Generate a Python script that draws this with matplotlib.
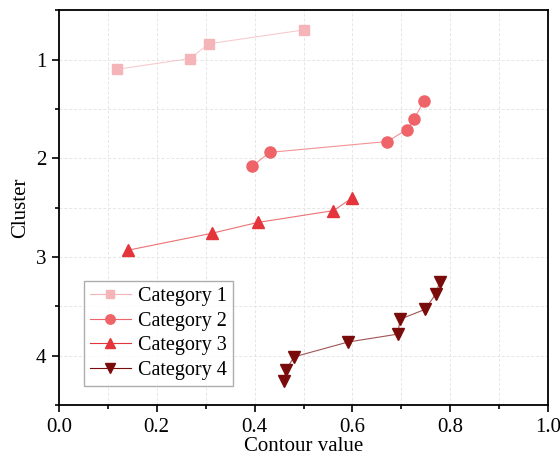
import matplotlib
matplotlib.use("Agg")
import matplotlib.pyplot as plt
from matplotlib.ticker import MultipleLocator, FormatStrFormatter

# ---- data ----
cat1_x = [0.118, 0.268, 0.307, 0.501]
cat1_y = [1.10, 0.99, 0.84, 0.70]

cat2_x = [0.395, 0.431, 0.671, 0.711, 0.726, 0.746]
cat2_y = [2.08, 1.94, 1.83, 1.71, 1.60, 1.42]

cat3_x = [0.142, 0.312, 0.406, 0.561, 0.600]
cat3_y = [2.93, 2.76, 2.65, 2.53, 2.40]

cat4_x = [0.460, 0.464, 0.481, 0.591, 0.693, 0.697, 0.748, 0.771, 0.778]
cat4_y = [4.25, 4.14, 4.01, 3.86, 3.78, 3.63, 3.53, 3.37, 3.25]

labels = ["Category 1", "Category 2", "Category 3", "Category 4"]
colors = ["#f5b5b8", "#ee6468", "#e3353b", "#7a0b0b"]
markers = ["s", "o", "^", "v"]
sizes = [7, 8, 9, 9]

plt.rcParams['font.family'] = ['Liberation Serif', 'DejaVu Serif']

fig = plt.figure(figsize=(5.6, 4.61), dpi=100)
ax = fig.add_axes([0.105, 0.121, 0.874, 0.857])

series = [(cat1_x, cat1_y), (cat2_x, cat2_y), (cat3_x, cat3_y), (cat4_x, cat4_y)]
for (xs, ys), lab, c, m, s in zip(series, labels, colors, markers, sizes):
    ax.plot(xs, ys, color=c, lw=0.8, alpha=0.7, zorder=3)
    ax.plot(xs, ys, ls='none', marker=m, ms=s, color=c, mec=c, zorder=4)
    # legend proxy
    ax.plot([], [], color=c, lw=0.8, marker=m, ms=s * 0.85, mec=c, label=lab)

ax.set_xlim(0, 1.0)
ax.set_ylim(4.5, 0.5)
ax.xaxis.set_major_locator(MultipleLocator(0.2))
ax.xaxis.set_minor_locator(MultipleLocator(0.1))
ax.yaxis.set_major_locator(MultipleLocator(1))
ax.yaxis.set_minor_locator(MultipleLocator(0.5))
ax.xaxis.set_major_formatter(FormatStrFormatter('%.1f'))

ax.grid(True, which='both', color='#e6e6e6', ls=(0, (3, 2)), lw=0.7, zorder=0)
ax.set_axisbelow(True)

ax.tick_params(which='both', direction='out', labelsize=15, width=1.2,
               top=False, right=False, pad=4)
ax.tick_params(which='major', length=5)
ax.tick_params(which='minor', length=3)
for sp in ax.spines.values():
    sp.set_linewidth(1.3)

ax.set_xlabel("Contour value", fontsize=15, labelpad=0)
ax.set_ylabel("Cluster", fontsize=15, labelpad=4)

leg = ax.legend(loc='lower left', bbox_to_anchor=(0.052, 0.048), fontsize=14.5,
                frameon=True, fancybox=False, edgecolor='#999999',
                borderpad=0.3, labelspacing=0.28, handlelength=2.0,
                handletextpad=0.35, borderaxespad=0)
leg.get_frame().set_linewidth(1.0)

fig.savefig("out.png", dpi=100)
